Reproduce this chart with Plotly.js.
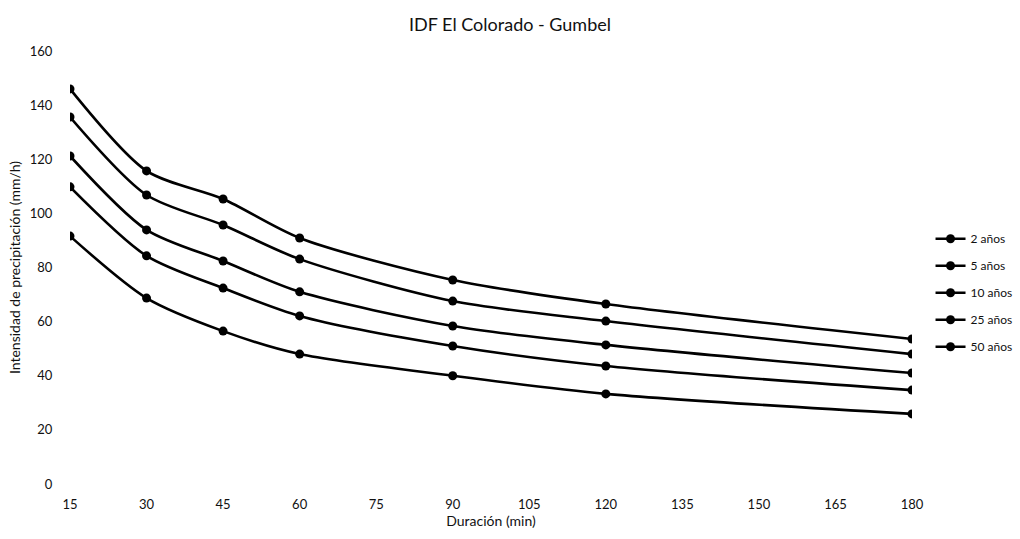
<!DOCTYPE html>
<html>
<head>
<meta charset="utf-8">
<script src="https://cdn.plot.ly/plotly-3.0.1.min.js"></script>
<style>html,body{margin:0;padding:0;background:#fff;}#chart{width:1020px;height:539px;}</style>
</head>
<body>
<div id="chart"></div>
<script>
const durations = [15, 30, 45, 60, 90, 120, 180];
const seriesNames = ["2 años", "5 años", "10 años", "25 años", "50 años"];
const tr2 = [91.6, 68.7, 56.5, 48.0, 40.0, 33.3, 25.9];
const tr5 = [109.8, 84.3, 72.4, 62.1, 51.0, 43.6, 34.7];
const tr10 = [121.2, 93.9, 82.4, 71.0, 58.4, 51.4, 41.0];
const tr25 = [135.6, 106.8, 95.7, 83.1, 67.6, 60.2, 48.0];
const tr50 = [146.0, 115.7, 105.3, 90.9, 75.4, 66.5, 53.6];
const xTicks = [15, 30, 45, 60, 75, 90, 105, 120, 135, 150, 165, 180];
const yTicks = [0, 20, 40, 60, 80, 100, 120, 140, 160];

const allSeries = [tr2, tr5, tr10, tr25, tr50];
const font = "Lato, 'Open Sans', sans-serif";
const traces = allSeries.map((vals, i) => ({
  x: durations,
  y: vals,
  name: seriesNames[i],
  legendgroup: "g" + i,
  type: "scatter",
  mode: "lines+markers",
  line: {color: "#000", width: 2.6, shape: "spline", smoothing: 0.8},
  marker: {color: "#000", size: 9, symbol: "circle"}
}));

const layout = {
  width: 1020,
  height: 539,
  paper_bgcolor: "#fff",
  plot_bgcolor: "#fff",
  margin: {l: 70, r: 108, t: 51, b: 55, autoexpand: false},
  title: {text: "IDF El Colorado - Gumbel", font: {family: font, size: 18, color: "#111"}, x: 0.5, xanchor: "center", y: 0.955, yanchor: "middle"},
  showlegend: true,
  legend: {x: 1.022, y: 0.6, xanchor: "left", yanchor: "top", font: {family: font, size: 12, color: "#111"}, tracegroupgap: 8, bgcolor: "rgba(0,0,0,0)"},
  xaxis: {
    range: [15, 180], tickvals: xTicks, ticktext: xTicks.map(String),
    showgrid: false, zeroline: false, showline: false,
    ticks: "outside", ticklen: 8, tickcolor: "rgba(0,0,0,0)",
    tickfont: {family: font, size: 13, color: "#111"},
    title: {text: "Duración (min)", font: {family: font, size: 14, color: "#111"}, standoff: 4}
  },
  yaxis: {
    range: [0, 160], tickvals: yTicks, ticktext: yTicks.map(String),
    showgrid: false, zeroline: false, showline: false,
    ticks: "outside", ticklen: 14, tickcolor: "rgba(0,0,0,0)",
    tickfont: {family: font, size: 13, color: "#111"},
    title: {text: "Intensidad de precipitación (mm/h)", font: {family: font, size: 14, color: "#111"}, standoff: 5}
  }
};

Plotly.newPlot("chart", traces, layout, {displayModeBar: false, staticPlot: true});
</script>
</body>
</html>
